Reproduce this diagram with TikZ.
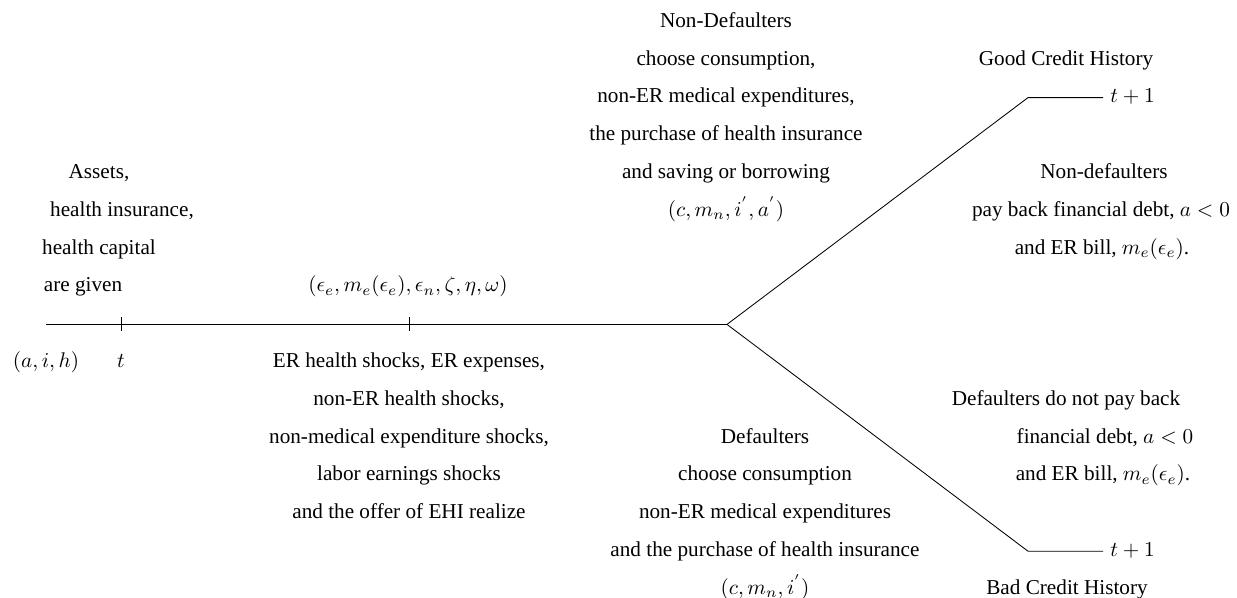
\documentclass[tikz,border=0pt]{standalone}
\usepackage{fontspec}
\setmainfont{Liberation Serif}
\newcommand*\textColumn[4]{%
    \foreach \entry [count=\k from 0] in {#4} {%
        \node[timeline/caption] (#1-\k) at (#2,#3+\k) {\entry};
    }%
}
\tikzset{timeline/.cd,
         caption/.style={inner sep=1pt,text height=1.5ex,text depth=.4ex},
         stroke/.style={line width=.4pt},
         tick/.style={line width=.4pt},
         period/.style={inner sep=.3333em,text height=1.5ex,text depth=.4ex,anchor=west}}

\begin{document}
\begin{tikzpicture}[x=0.4717pt,y=-17.83pt]
\useasboundingbox (0,-0.582) rectangle (1237,15.238);
\coordinate (start) at (46,8);
\coordinate (tick1) at (121,8);
\coordinate (tick2) at (409,8);
\coordinate (fork) at (727,8);
\coordinate (goodbend) at (1028,2);
\coordinate (badbend) at (1028,14);
\node[timeline/period] (good1) at (1103,2) {$t+1$};
\node[timeline/period] (bad1) at (1103,14) {$t+1$};
\draw[timeline/stroke] (start) -- (fork);
\draw[timeline/tick] (tick1) ++(0,-.185) -- ++(0,.37);
\draw[timeline/tick] (tick2) ++(0,-.185) -- ++(0,.37);
\draw[timeline/stroke] (fork) -- (goodbend) -- (good1.west);
\draw[timeline/stroke] (fork) -- (badbend) -- (bad1.west);
% state at t
\node[timeline/caption] (given1) at (99,4) {Assets,};
\node[timeline/caption] (given2) at (122,5) {health insurance,};
\node[timeline/caption] (given3) at (99,6) {health capital};
\node[timeline/caption] (given4) at (83,7) {are given};
\node[timeline/caption] (state) at (46,9) {$(a,i,h)$};
\node[timeline/caption] (now) at (121,9) {$t$};
% shocks
\node[timeline/caption] (draws) at (408,7) {$(\epsilon_e,m_e(\epsilon_e),\epsilon_n,\zeta,\eta,\omega)$};
\textColumn{shock}{409}{9}{{ER health shocks, ER expenses,},{non-ER health shocks,},{non-medical expenditure shocks,},labor earnings shocks,and the offer of EHI realize}
% choices
\textColumn{nondef}{726}{0}{Non-Defaulters,{choose consumption,},{non-ER medical expenditures,},the purchase of health insurance,and saving or borrowing,{$(c,m_n,i^{'},a^{'})$}}
\textColumn{def}{765}{11}{Defaulters,choose consumption,non-ER medical expenditures,and the purchase of health insurance,{$(c,m_n,i^{'})$}}
% credit history
\node[timeline/caption] (good) at (1066,1) {Good Credit History};
\node[timeline/caption] (paid1) at (1104,4) {Non-defaulters};
\node[timeline/caption] (paid2) at (1101,5) {pay back financial debt, $a<0$};
\node[timeline/caption] (paid3) at (1102,6) {and ER bill, $m_e(\epsilon_e)$.};
\node[timeline/caption] (unpaid1) at (1066,10) {Defaulters do not pay back};
\node[timeline/caption] (unpaid2) at (1105,11) {financial debt, $a<0$};
\node[timeline/caption] (unpaid3) at (1103,12) {and ER bill, $m_e(\epsilon_e)$.};
\node[timeline/caption] (bad) at (1067,15) {Bad Credit History};
\end{tikzpicture}
\end{document}
